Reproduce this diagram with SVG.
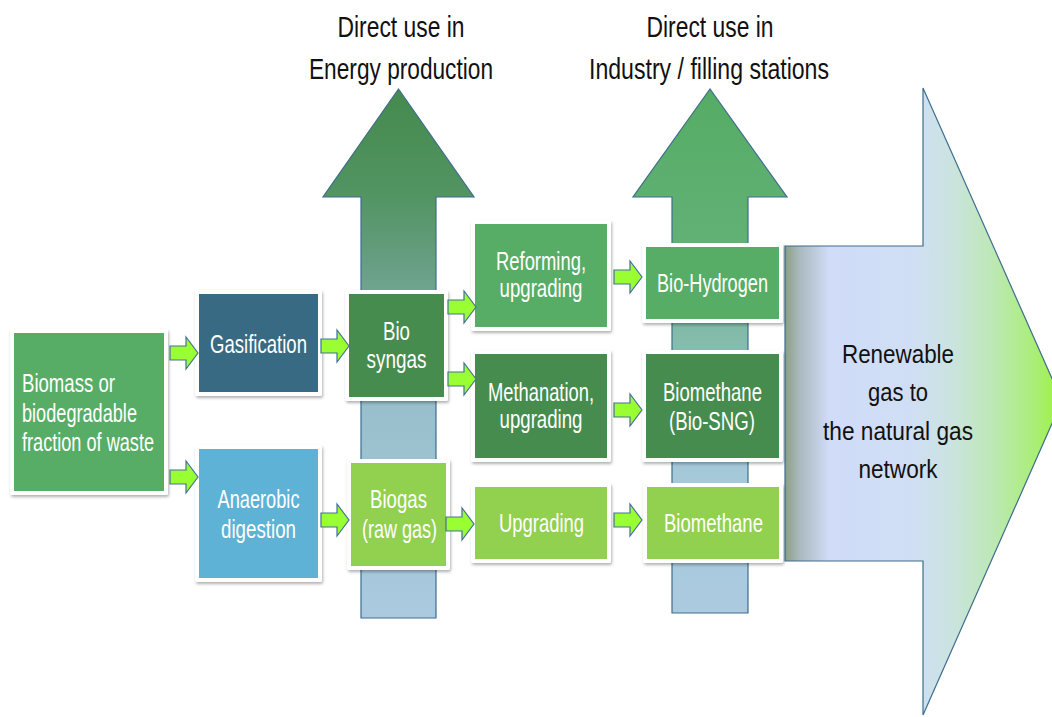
<svg xmlns="http://www.w3.org/2000/svg" xmlns:xlink="http://www.w3.org/1999/xlink" width="1052" height="717" viewBox="0 0 1052 717">
<style>
.bt{fill:#fff;font-family:"Liberation Sans",Arial,sans-serif;font-size:25px;text-anchor:middle}
.bl{text-anchor:start}
.tt{fill:#111;font-family:"Liberation Sans",Arial,sans-serif;font-size:30px;text-anchor:middle}
.at{fill:#111;font-family:"Liberation Sans",Arial,sans-serif;font-size:26px;text-anchor:middle}
.frame{fill:#fff;filter:url(#sh)}
.big{stroke:#3e6d8e;stroke-width:1.2}
.sa{fill:#99ff33;stroke:#45709a;stroke-width:1.2;stroke-linejoin:miter}
</style>
<defs>
<filter id="sh" x="-10%" y="-10%" width="125%" height="125%">
<feDropShadow dx="1" dy="2" stdDeviation="1.5" flood-color="#000" flood-opacity="0.3"/>
</filter>
<linearGradient id="g1" gradientUnits="userSpaceOnUse" x1="0" y1="89" x2="0" y2="618">
<stop offset="0" stop-color="#448a4d"/>
<stop offset="0.2" stop-color="#529462"/>
<stop offset="0.35" stop-color="#6aa088"/>
<stop offset="0.6" stop-color="#98bfcb"/>
<stop offset="1" stop-color="#abcae0"/>
</linearGradient>
<linearGradient id="g2" gradientUnits="userSpaceOnUse" x1="0" y1="89" x2="0" y2="613">
<stop offset="0" stop-color="#55ac64"/>
<stop offset="0.3" stop-color="#62b176"/>
<stop offset="0.45" stop-color="#80baa6"/>
<stop offset="0.7" stop-color="#a5c8d8"/>
<stop offset="1" stop-color="#abcae0"/>
</linearGradient>
<linearGradient id="g3" gradientUnits="userSpaceOnUse" x1="785" y1="0" x2="1062" y2="0">
<stop offset="0" stop-color="#8b9f82"/>
<stop offset="0.05" stop-color="#a8b8bc"/>
<stop offset="0.16" stop-color="#d0dcf8"/>
<stop offset="0.45" stop-color="#d0def5"/>
<stop offset="0.6" stop-color="#cbe3e0"/>
<stop offset="0.75" stop-color="#bde8b5"/>
<stop offset="0.9" stop-color="#aaee78"/>
<stop offset="1" stop-color="#9cf23c"/>
</linearGradient>
<path id="sa" d="M0,-7 H16 V-16 L28,0 L16,16 V7 H0 Z"/>
</defs>
<rect width="1052" height="717" fill="#fff"/>

<g id="arrow-energy">
<polygon class="big" fill="url(#g1)" points="361,618 361,197 323,197 398.5,89 474,197 436,197 436,618"/>
<text class="tt" x="401" y="37" textLength="127" lengthAdjust="spacingAndGlyphs">Direct use in</text>
<text class="tt" x="401" y="79" textLength="184" lengthAdjust="spacingAndGlyphs">Energy production</text>
</g>
<g id="arrow-industry">
<polygon class="big" fill="url(#g2)" points="672,613 672,197 633,197 710,89 787,197 748,197 748,613"/>
<text class="tt" x="710" y="37" textLength="127" lengthAdjust="spacingAndGlyphs">Direct use in</text>
<text class="tt" x="709" y="79" textLength="240" lengthAdjust="spacingAndGlyphs">Industry / filling stations</text>
</g>
<g id="arrow-network">
<polygon class="big" fill="url(#g3)" points="785,246 923,246 923,88 1062,401 923,715 923,561 785,561"/>
<text class="at" x="898" y="363" textLength="112" lengthAdjust="spacingAndGlyphs">Renewable</text>
<text class="at" x="898" y="401" textLength="60" lengthAdjust="spacingAndGlyphs">gas to</text>
<text class="at" x="898" y="440" textLength="150" lengthAdjust="spacingAndGlyphs">the natural gas</text>
<text class="at" x="898" y="478" textLength="79" lengthAdjust="spacingAndGlyphs">network</text>
</g>

<g id="biomass">
<rect class="frame" x="10" y="329" width="158" height="166" rx="2"/>
<rect x="14" y="333" width="150" height="158" fill="#57ad65"/>
<text class="bt bl" x="22" y="392" textLength="93" lengthAdjust="spacingAndGlyphs">Biomass or</text>
<text class="bt bl" x="22" y="422" textLength="115" lengthAdjust="spacingAndGlyphs">biodegradable</text>
<text class="bt bl" x="22" y="451" textLength="132" lengthAdjust="spacingAndGlyphs">fraction of waste</text>
</g>
<g id="gasification">
<rect class="frame" x="195" y="290" width="127" height="106" rx="2"/>
<rect x="199" y="294" width="119" height="98" fill="#386a83"/>
<text class="bt" x="258.5" y="353" textLength="97" lengthAdjust="spacingAndGlyphs">Gasification</text>
</g>
<g id="anaerobic">
<rect class="frame" x="195" y="445" width="127" height="137" rx="2"/>
<rect x="199" y="449" width="119" height="129" fill="#5db2d5"/>
<text class="bt" x="258.5" y="508" textLength="82" lengthAdjust="spacingAndGlyphs">Anaerobic</text>
<text class="bt" x="258.5" y="538" textLength="75" lengthAdjust="spacingAndGlyphs">digestion</text>
</g>
<g id="biosyngas">
<rect class="frame" x="345" y="290" width="103" height="111" rx="2"/>
<rect x="349" y="294" width="95" height="103" fill="#468c4e"/>
<text class="bt" x="396.5" y="340" textLength="27" lengthAdjust="spacingAndGlyphs">Bio</text>
<text class="bt" x="396.5" y="368" textLength="60" lengthAdjust="spacingAndGlyphs">syngas</text>
</g>
<g id="biogas">
<rect class="frame" x="347" y="459" width="103" height="111" rx="2"/>
<rect x="351" y="463" width="95" height="103" fill="#92d050"/>
<text class="bt" x="398.5" y="508" textLength="57" lengthAdjust="spacingAndGlyphs">Biogas</text>
<text class="bt" x="399.5" y="538" textLength="75" lengthAdjust="spacingAndGlyphs">(raw gas)</text>
</g>
<g id="reforming">
<rect class="frame" x="471" y="220" width="140" height="111" rx="2"/>
<rect x="475" y="224" width="132" height="103" fill="#57ad65"/>
<text class="bt" x="541" y="270" textLength="90" lengthAdjust="spacingAndGlyphs">Reforming,</text>
<text class="bt" x="541" y="297" textLength="83" lengthAdjust="spacingAndGlyphs">upgrading</text>
</g>
<g id="methanation">
<rect class="frame" x="471" y="350" width="140" height="112" rx="2"/>
<rect x="475" y="354" width="132" height="104" fill="#468c4e"/>
<text class="bt" x="541" y="401" textLength="106" lengthAdjust="spacingAndGlyphs">Methanation,</text>
<text class="bt" x="541" y="428" textLength="83" lengthAdjust="spacingAndGlyphs">upgrading</text>
</g>
<g id="upgrading">
<rect class="frame" x="471" y="483" width="140" height="80" rx="2"/>
<rect x="475" y="487" width="132" height="72" fill="#92d050"/>
<text class="bt" x="541.5" y="532" textLength="85" lengthAdjust="spacingAndGlyphs">Upgrading</text>
</g>
<g id="biohydrogen">
<rect class="frame" x="642" y="243" width="141" height="80" rx="2"/>
<rect x="646" y="247" width="133" height="72" fill="#57ad65"/>
<text class="bt" x="712.5" y="292" textLength="111" lengthAdjust="spacingAndGlyphs">Bio-Hydrogen</text>
</g>
<g id="biomethane-sng">
<rect class="frame" x="642" y="350" width="141" height="112" rx="2"/>
<rect x="646" y="354" width="133" height="104" fill="#468c4e"/>
<text class="bt" x="712.5" y="401" textLength="99" lengthAdjust="spacingAndGlyphs">Biomethane</text>
<text class="bt" x="712" y="430" textLength="86" lengthAdjust="spacingAndGlyphs">(Bio-SNG)</text>
</g>
<g id="biomethane">
<rect class="frame" x="643" y="483" width="140" height="80" rx="2"/>
<rect x="647" y="487" width="132" height="72" fill="#92d050"/>
<text class="bt" x="713.5" y="532" textLength="99" lengthAdjust="spacingAndGlyphs">Biomethane</text>
</g>

<g id="connectors">
<use xlink:href="#sa" class="sa" transform="translate(170,353)"/>
<use xlink:href="#sa" class="sa" transform="translate(170,477)"/>
<use xlink:href="#sa" class="sa" transform="translate(321,346)"/>
<use xlink:href="#sa" class="sa" transform="translate(321,520)"/>
<use xlink:href="#sa" class="sa" transform="translate(448,307)"/>
<use xlink:href="#sa" class="sa" transform="translate(448,379)"/>
<use xlink:href="#sa" class="sa" transform="translate(446,524)"/>
<use xlink:href="#sa" class="sa" transform="translate(614,277)"/>
<use xlink:href="#sa" class="sa" transform="translate(614,410)"/>
<use xlink:href="#sa" class="sa" transform="translate(614,520)"/>
</g>
</svg>
